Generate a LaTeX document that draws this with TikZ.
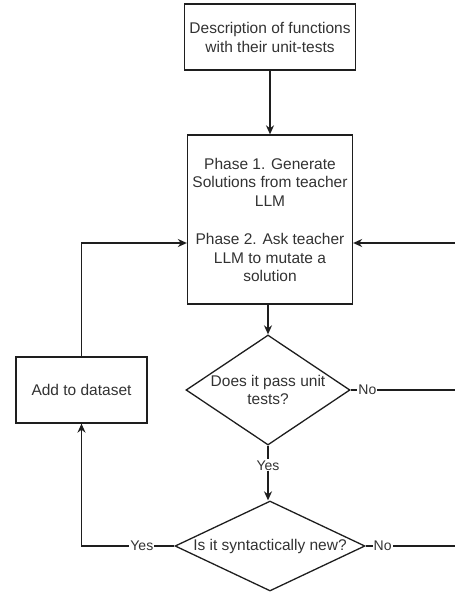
\documentclass[tikz,border=0pt]{standalone}
\usepackage{fontspec}
\setmainfont{Liberation Sans}
\usetikzlibrary{shapes.geometric,arrows.meta}
\definecolor{ln}{RGB}{30,30,30}
\definecolor{tx}{RGB}{50,50,50}
\begin{document}
\begin{tikzpicture}[x=1pt,y=-1pt,
  txt/.style={text=tx,align=center,font=\fontsize{15.5}{18.8}\selectfont,inner sep=0pt},
  box/.style={draw=ln,line width=1.3pt,inner sep=0pt},
  dia/.style={draw=ln,line width=1.3pt,diamond,inner sep=0pt},
  conn/.style={draw=ln,line width=1.3pt},
  arr/.style={conn,-{Stealth[length=9pt,width=8pt]}},
  lbl/.style={text=tx,font=\fontsize{14}{16}\selectfont,fill=white,inner sep=1pt}]
\useasboundingbox (0,0) rectangle (455,592);

% top box
\node[box,minimum width=171pt,minimum height=66pt] (top) at (270,37) {};
\node[txt] at (270,37.5) {Description of functions\\with their unit-tests};

% main box
\node[box,minimum width=165pt,minimum height=169pt] (main) at (270,219.5) {};
\node[txt] at (270,220) {Phase 1. Generate\\Solutions from teacher\\LLM\\[18.8pt]Phase 2. Ask teacher\\LLM to mutate a\\solution};

% diamond 1
\node[dia,minimum width=164pt,minimum height=110pt] (d1) at (268,390) {};
\node[txt] at (268,390) {Does it pass unit\\tests?};

% diamond 2
\node[dia,minimum width=190pt,minimum height=90pt] (d2) at (270,546) {};
\node[txt] at (270,546) {Is it syntactically new?};

% add box
\node[box,minimum width=131pt,minimum height=66pt] (add) at (81.5,390) {};
\node[txt] at (81.5,390) {Add to dataset};

% right-side off-canvas points
\coordinate (r1) at (455,243);
\coordinate (r2) at (455,390);
\coordinate (r3) at (455,546);

% connectors
\draw[arr] (top.south) -- (main.north);
\draw[arr] (main.south -| d1.north) -- (d1.north);
\draw[arr] (d1.south) -- node[lbl,pos=0.36]{Yes} (d1.south |- d2.north);
\draw[arr] (add.north) |- (main.west |- r1);
\draw[arr] (r1) -- (main.east |- r1);
\draw[conn] (d1.east) -- node[lbl,pos=0.16]{No} (r2);
\draw[conn] (d2.east) -- node[lbl,pos=0.19]{No} (r3);
\draw[arr] (d2.west) -- node[lbl,pos=0.35]{Yes} (add.south |- d2.west) -- (add.south);
\end{tikzpicture}
\end{document}
